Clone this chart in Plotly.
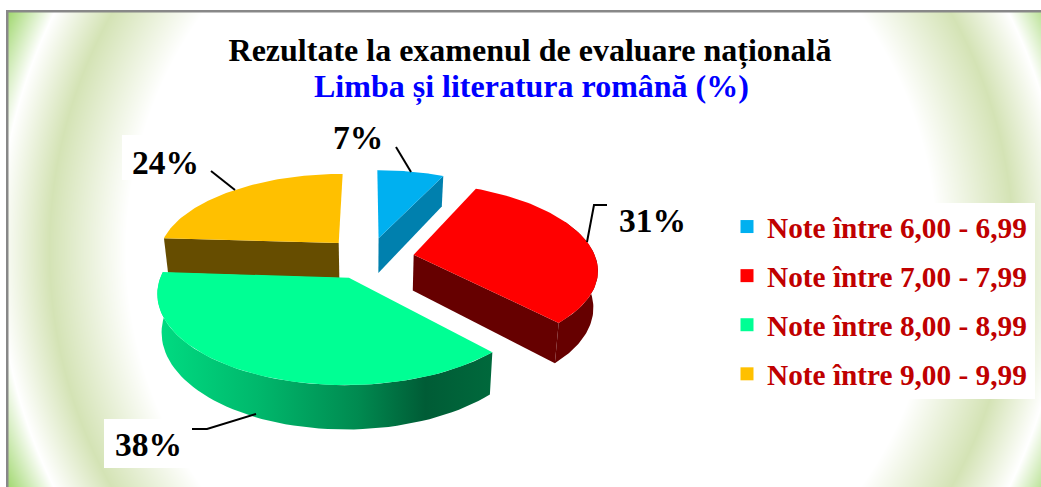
import math
import numpy as np
import plotly.graph_objects as go

# ---- data ----
categories = ["Note între 6,00 - 6,99", "Note între 7,00 - 7,99",
              "Note între 8,00 - 8,99", "Note între 9,00 - 9,99"]
values = [7, 31, 38, 24]
top_colors = ["#00B0F0", "#FF0000", "#00FF94", "#FFC000"]
side_colors = ["#0080AE", "#660000", "#006038", "#664D00"]
title_line = "Rezultate la examenul de evaluare națională"
subtitle_line = "Limba și literatura română (%)"

# ---- view model of the tilted, exploded pie (page pixels) ----
W, H = 1041, 487
CX, CY, A, B, K, DEPTH, EXPLODE = 369, 258, 182, 84.1, 0.154, 36, 0.25


def project(X, Y, z=0.0):
    w = 1 + K * Y
    s = 1 - 0.02 * z
    return CX + A * X / w * s, CY - B * Y / w + DEPTH * z / w


def pt(angle, off, r=1.0, z=0.0):
    t = math.radians(angle)
    return project(off[0] + r * math.sin(t), off[1] + r * math.cos(t), z)


def arc(a0, a1, off, z=0.0, n=60):
    return [pt(a0 + (a1 - a0) * i / n, off, 1.0, z) for i in range(n + 1)]


def poly(points, **kw):
    xs = [p[0] for p in points] + [points[0][0]]
    ys = [p[1] for p in points] + [points[0][1]]
    return go.Scatter(x=xs, y=ys, mode="lines", fill="toself", line=dict(width=0),
                      hoverinfo="skip", showlegend=False, **kw)


fig = go.Figure()

# background glow
gx = np.arange(8, W + 4, 4)
gy = np.arange(12, H + 4, 4)
xx, yy = np.meshgrid(gx, gy)
rr = np.hypot(xx - 531, yy - 250)
R0, R1 = 405.0, 590.0
stops = [(405, "#FFFFFF"), (482, "#D4E3B5"), (533, "#FFFFFF"), (590, "#7FC93C")]
fig.add_trace(go.Heatmap(x=gx, y=gy, z=rr, zmin=R0, zmax=R1, zsmooth="best", showscale=False,
                         hoverinfo="skip",
                         colorscale=[[(r - R0) / (R1 - R0), c] for r, c in stops]))

# white patches of the original picture
for x0, x1, y0, y1 in [(122, 230, 135, 180), (104, 200, 419, 468), (745, 1035, 203, 399)]:
    fig.add_trace(poly([(x0, y0), (x1, y0), (x1, y1), (x0, y1)], fillcolor="#FFFFFF"))

# slices
bounds = []
acc = 0.0
total = sum(values)
for v in values:
    bounds.append((acc, acc + 360.0 * v / total))
    acc += 360.0 * v / total

offsets = []
for a0, a1 in bounds:
    m = math.radians((a0 + a1) / 2)
    offsets.append((EXPLODE * math.sin(m), EXPLODE * math.cos(m)))


def cut(angle, off):
    apex_t = project(off[0], off[1])
    apex_b = project(off[0], off[1], 1.0)
    return [apex_t, pt(angle, off), pt(angle, off, 1.0, 1.0), apex_b]


def outer(a0, a1, off):
    return arc(a0, a1, off) + arc(a1, a0, off, 1.0)


def top(i):
    a0, a1 = bounds[i]
    off = offsets[i]
    return poly([project(off[0], off[1])] + arc(a0, a1, off), fillcolor=top_colors[i])


# back to front: yellow, blue, red, green
fig.add_trace(poly(cut(bounds[3][0], offsets[3]), fillcolor=side_colors[3]))
fig.add_trace(top(3))
fig.add_trace(poly(cut(bounds[0][1], offsets[0]), fillcolor=side_colors[0]))
fig.add_trace(top(0))
fig.add_trace(poly(cut(bounds[1][1], offsets[1]), fillcolor=side_colors[1]))
fig.add_trace(poly(outer(bounds[1][0] + 40, bounds[1][1], offsets[1]), fillcolor=side_colors[1]))
fig.add_trace(top(1))
fig.add_trace(poly(outer(bounds[2][0], bounds[2][1], offsets[2]),
                   fillgradient=dict(type="horizontal", colorscale=[
                       [0.0, "#00DC82"], [0.3, "#00B86C"], [0.6, "#008A50"],
                       [0.8, "#005C36"], [1.0, "#00693C"]])))
fig.add_trace(top(2))

# legend entries
for name, col in zip(categories, top_colors):
    fig.add_trace(go.Scatter(x=[None], y=[None], mode="markers", name=name, legendgroup=name,
                             marker=dict(symbol="square", size=13, color=col)))

# leader lines
leaders = [[(396, 147), (411, 172)], [(211, 171), (235, 190)],
           [(607, 205), (594, 205), (587, 242)], [(192, 429), (207, 429), (256, 414)]]
for pts in leaders:
    path = "M" + " L".join(f"{x},{y}" for x, y in pts)
    fig.add_shape(type="path", path=path, xref="x", yref="y", line=dict(color="black", width=2))

# percentage labels
label_pos = [(358, 137), (652, 220), (148, 444), (165, 162)]
for v, (x, y) in zip(values, label_pos):
    fig.add_annotation(x=x, y=y, xref="x", yref="y", text=f"{v}%", showarrow=False,
                       font=dict(family="Liberation Serif", size=33.5, color="black", weight=700))

# second title line
fig.add_annotation(x=531, y=86, xref="x", yref="y", text=subtitle_line, showarrow=False,
                   font=dict(family="Liberation Serif", size=32, color="#0000FF", weight=700))

# frame
fig.add_shape(type="rect", xref="x", yref="y", x0=6, x1=8.5, y0=10, y1=H, fillcolor="#888888", line_width=0)
fig.add_shape(type="rect", xref="x", yref="y", x0=6, x1=W, y0=10, y1=12.5, fillcolor="#888888", line_width=0)

fig.update_layout(
    width=W, height=H, autosize=False,
    margin=dict(l=0, r=0, t=0, b=0),
    paper_bgcolor="white", plot_bgcolor="white",
    xaxis=dict(visible=False, range=[0, W], domain=[0, 1], fixedrange=True),
    yaxis=dict(visible=False, range=[H, 0], domain=[0, 1], fixedrange=True),
    title=dict(text=title_line, x=530 / W, xanchor="center", y=1 - 50 / H, yanchor="middle",
               font=dict(family="Liberation Serif", size=32, color="black", weight=700)),
    showlegend=True,
    legend=dict(x=727 / W, xanchor="left", y=1 - 201 / H, yanchor="top", bgcolor="rgba(0,0,0,0)",
                tracegroupgap=8,
                font=dict(family="Liberation Serif", size=29.3, color="#C00000", weight=700)),
)

fig.write_html("out.html", post_script="document.body.style.margin='0';",
               config={"displayModeBar": False})
